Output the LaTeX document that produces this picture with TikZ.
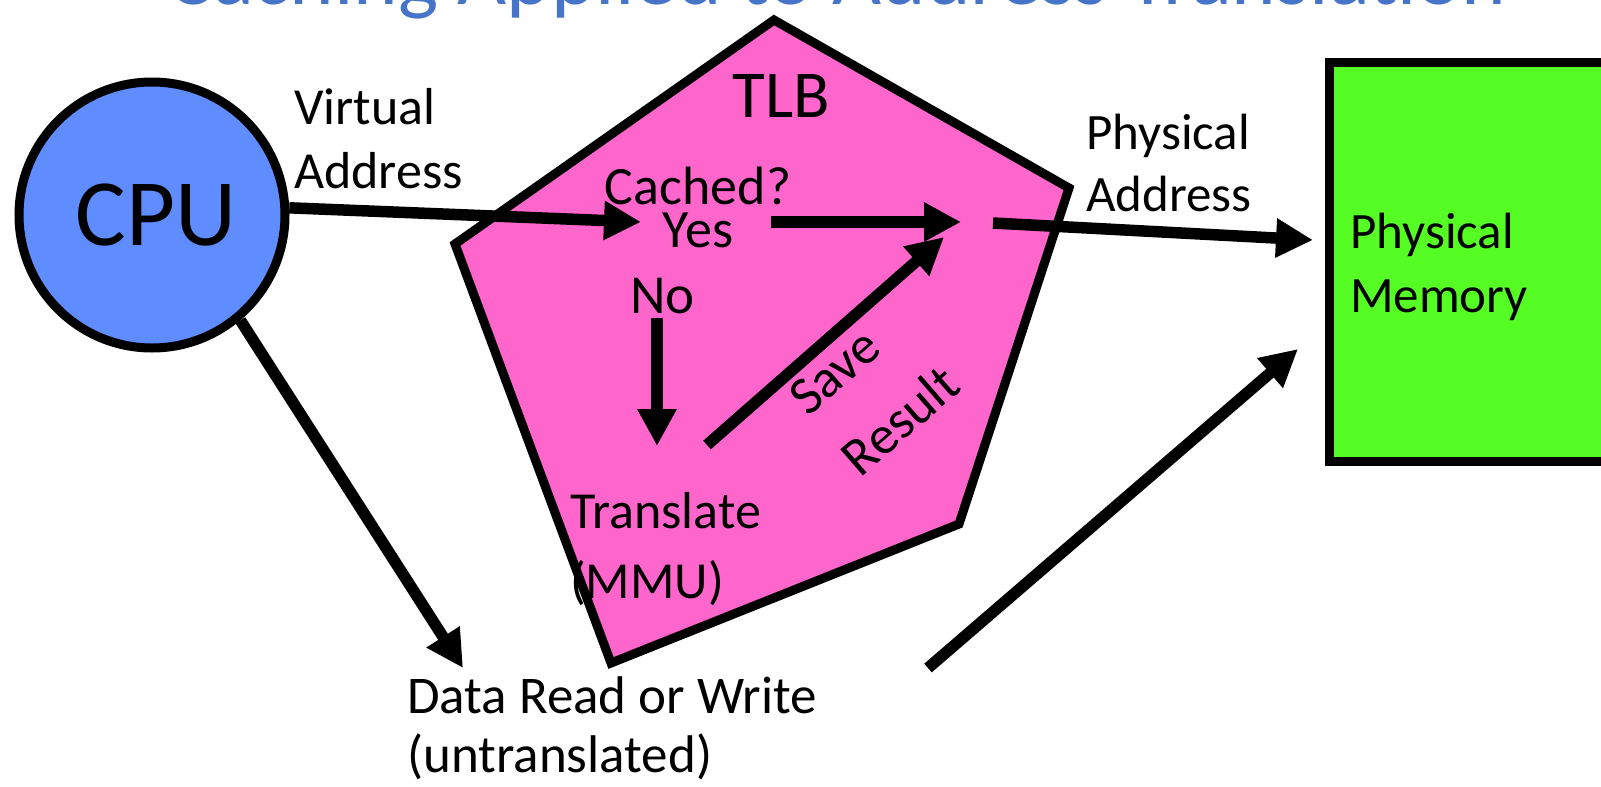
\documentclass[tikz,border=0pt]{standalone}
\usepackage{fontspec}
\setmainfont{Carlito}
\usetikzlibrary{arrows.meta}
\definecolor{cpublue}{RGB}{95,140,255}
\definecolor{tlbpink}{RGB}{255,102,204}
\definecolor{memgreen}{RGB}{85,253,36}
\definecolor{titleblue}{RGB}{70,116,200}
\newcommand\mylft[2]{\vtop{\halign{##\hfil\cr#1\cr#2\cr}}}
\newcommand\myctr[2]{\vtop{\halign{\hfil##\hfil\cr#1\cr#2\cr}}}
\begin{document}
\begin{tikzpicture}[x=1pt,y=-1pt,
  lbl/.style={inner sep=0pt, anchor=base west},
  arr/.style={line width=11.5pt, -{Triangle[length=37pt,width=37pt]}},
  shape border/.style={line width=9pt, line join=miter}
  ]
\useasboundingbox (0,0) rectangle (1601,787);
\clip (0,0) rectangle (1601,787);

% title (cut off at the top)
\node[inner sep=0pt, anchor=base, text=titleblue, font=\fontsize{60}{60}\selectfont] (title) at (837,4)
  {\resizebox{1338pt}{!}{Caching Applied to Address Translation}};

% TLB pentagon
\draw[shape border, fill=tlbpink] (774,20) -- (1069,188) -- (959,524) -- (611,663) -- (455,244) -- cycle;

% physical memory box
\draw[shape border, fill=memgreen] (1329.5,62.5) rectangle (1640,461.5);

% CPU
\node[circle, draw, line width=9pt, fill=cpublue, minimum size=266pt, inner sep=0pt,
      font=\fontsize{95}{95}\selectfont] (cpu) at (152,215) {\hspace*{8pt}CPU};

% texts
\node[lbl, font=\fontsize{52}{64}\selectfont] (va) at (294,124) {\mylft{Virtual}{Address}};
\node[inner sep=0pt, anchor=base, font=\fontsize{67}{67}\selectfont] (tlb) at (781,117) {TLB};
\node[inner sep=0pt, anchor=base, font=\fontsize{54}{43}\selectfont] (cached) at (698,204) {\myctr{Cached?}{Yes}};
\node[lbl, font=\fontsize{55}{55}\selectfont] (no) at (630,313) {No};
\node[lbl, font=\fontsize{52}{70}\selectfont] (translate) at (570,528) {\mylft{Translate}{(MMU)}};
\node[lbl, rotate=41, font=\fontsize{54}{80}\selectfont] (save) at (808,418) {\mylft{Save}{Result}};
\node[lbl, font=\fontsize{51}{62}\selectfont] (pa) at (1086,149) {\mylft{Physical}{Address}};
\node[lbl, font=\fontsize{51}{64}\selectfont] (mem) at (1350,248) {\mylft{Physical}{Memory}};
\node[lbl, font=\fontsize{53}{59}\selectfont] (data) at (407,713) {\mylft{Data Read or Write}{(untranslated)}};

% connector end points
\coordinate (cin) at (641,222);
\coordinate (yout) at (771,222);
\coordinate (hit) at (961,222);
\coordinate (pout) at (993,223);
\coordinate (pin) at (1313,240);
\coordinate (nout) at (657,318);
\coordinate (nin) at (657,446);
\coordinate (sout) at (707,445);
\coordinate (sin) at (944,237);
\coordinate (din) at (463,668);
\coordinate (mout) at (928,668);
\coordinate (min) at (1298,349);

% connectors
\draw[arr] (cpu.3) -- (cin);
\draw[arr] (yout) -- (hit);
\draw[arr] (pout) -- (pin);
\draw[arr] (nout) -- (nin);
\draw[arr] (sout) -- (sin);
\draw[arr] (cpu.-50) -- (din);
\draw[arr] (mout) -- (min);
\end{tikzpicture}
\end{document}
